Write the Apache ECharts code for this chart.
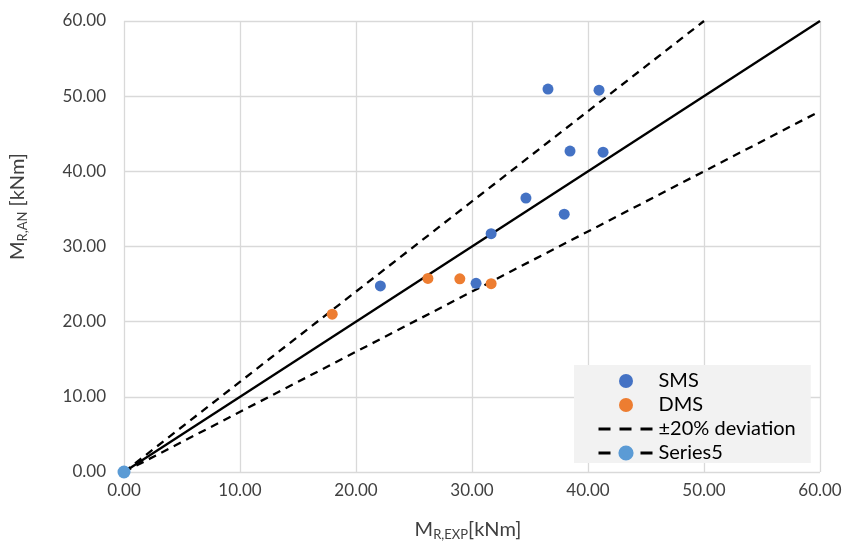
<!DOCTYPE html>
<html><head><meta charset="utf-8">
<script src="https://cdn.jsdelivr.net/npm/echarts@6/dist/echarts.min.js"></script>
<style>html,body{margin:0;padding:0;background:#fff}#c{width:842px;height:543px}</style>
</head><body><div id="c"></div>
<script>
const smsData = [[36.55,50.95],[40.95,50.8],[38.45,42.7],[41.3,42.55],[34.65,36.45],[37.95,34.3],[31.65,31.7],[22.1,24.75],[30.35,25.1]];
const dmsData = [[17.95,21.0],[26.2,25.75],[28.95,25.7],[31.65,25.05]];
const equalityLine = [[0,0],[60,60]];
const upperDeviation = [[0,0],[50,60]];
const lowerDeviation = [[0,0],[60,48]];
const series5Data = [[0,0]];
const axisTicks = [0,10,20,30,40,50,60];

const font = 'Lato, "Open Sans", sans-serif';
const txt = '#404040';
const chart = echarts.init(document.getElementById('c'));
const axisCommon = {
  type:'value', min:axisTicks[0], max:axisTicks[axisTicks.length-1], interval:axisTicks[1]-axisTicks[0],
  axisLine:{show:false}, axisTick:{show:false},
  splitLine:{lineStyle:{color:'#d9d9d9', width:1.3}},
  axisLabel:{color:txt, fontSize:17, fontFamily:font, formatter:v=>v.toFixed(2)}
};
const richName = {m:{fontSize:20, color:txt, fontFamily:font}, s:{fontSize:13, color:txt, fontFamily:font, padding:[10,0,0,0]}};
chart.setOption({
  animation:false,
  grid:{left:124, right:22, top:21, bottom:71, containLabel:false, outerBoundsMode:'none'},
  xAxis:Object.assign({}, axisCommon, {
    axisLabel:Object.assign({}, axisCommon.axisLabel, {margin:10}),
    name:'{m|M}{s|R,EXP}{m|[kNm]}', nameLocation:'middle', nameGap:46,
    nameTextStyle:{rich:richName, padding:[0,8,0,0]}
  }),
  yAxis:Object.assign({}, axisCommon, {
    axisLabel:Object.assign({}, axisCommon.axisLabel, {margin:18}),
    name:'{m|M}{s|R,AN}{m| [kNm]}', nameLocation:'middle', nameGap:95,
    nameTextStyle:{rich:richName, padding:[0,0,0,80]}
  }),
  legend:{
    orient:'vertical', left:574, top:365,
    backgroundColor:'#f2f2f2', padding:[6,15,0,23],
    itemWidth:55, itemHeight:14, itemGap:4,
    textStyle:{fontSize:20, color:'#000', fontFamily:font},
    data:[
      {name:'SMS', icon:'circle', itemStyle:{opacity:1}},
      {name:'DMS', icon:'circle', itemStyle:{opacity:1}},
      {name:'±20% deviation', itemStyle:{opacity:0}, lineStyle:{width:3, type:[12,9]}},
      {name:'Series5', itemStyle:{color:'#5B9BD5', borderColor:'#5B9BD5', borderWidth:4, opacity:1}, lineStyle:{width:3, type:[12,9]}}
    ]
  },
  series:[
    {name:'equality', type:'line', data:equalityLine, symbol:'none', lineStyle:{color:'#000', width:2.3}, z:2},
    {name:'±20% deviation', type:'line', data:upperDeviation, symbol:'none', itemStyle:{color:'#000'}, lineStyle:{color:'#000', width:2.3, type:[8,6]}, z:2},
    {name:'±20% deviation', type:'line', data:lowerDeviation, symbol:'none', itemStyle:{color:'#000'}, lineStyle:{color:'#000', width:2.3, type:[8,6]}, z:2},
    {name:'SMS', type:'scatter', data:smsData, symbolSize:11, itemStyle:{color:'#4472C4', opacity:1}, z:3},
    {name:'DMS', type:'scatter', data:dmsData, symbolSize:11, itemStyle:{color:'#ED7D31', opacity:1}, z:3},
    {name:'Series5', type:'line', data:series5Data, symbol:'circle', symbolSize:13, showSymbol:true, itemStyle:{color:'#5B9BD5', opacity:1}, lineStyle:{color:'#000', width:2.3, type:[8,6]}, z:4}
  ]
});
</script></body></html>
